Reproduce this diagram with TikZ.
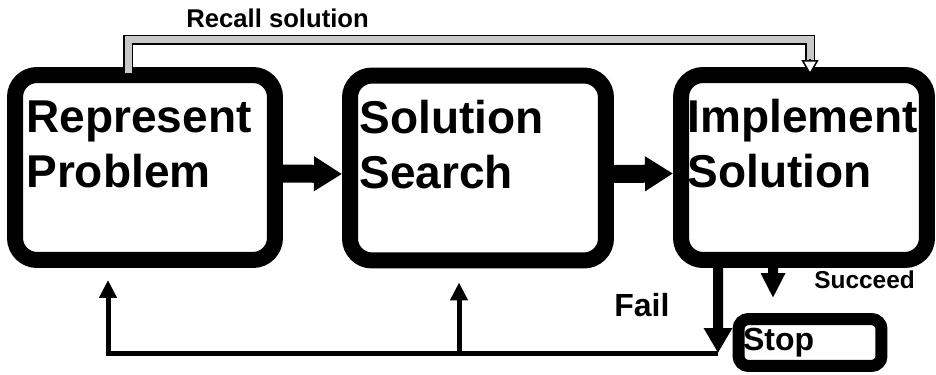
\documentclass[tikz,border=0pt]{standalone}
\usepackage{fontspec}
\setmainfont{Liberation Sans}
\usetikzlibrary{arrows.meta,calc}
\definecolor{recallfill}{HTML}{C8C8C8}

\begin{document}
\begin{tikzpicture}[x=0.02cm, y=-0.02cm,
  stagebox/.style={draw, line width=0.32cm, rounded corners=0.44cm, minimum height=3.7cm, inner sep=0pt},
  stagetext/.style={font=\fontsize{26.2}{31.3}\selectfont\bfseries, align=left, anchor=north west, inner sep=0pt},
  stopbox/.style={draw, line width=0.24cm, rounded corners=0.2cm, minimum height=0.94cm, text width=2.68cm, inner xsep=0.09cm, align=left, font=\fontsize{18.2}{22}\selectfont\bfseries},
  note/.style={font=\fontsize{14.6}{17}\selectfont\bfseries, inner sep=0pt, anchor=base west},
  flowarrow/.style={line width=0.36cm, -{Triangle[length=0.56cm,width=0.66cm]}},
  recall/.style={double=recallfill, double distance=0.14cm, line width=0.03cm},
  recallhead/.style={line width=0.03cm, -{Triangle[open,fill=white,length=0.3cm,width=0.34cm]}},
  loopline/.style={line width=0.1cm},
  looparrow/.style={line width=0.1cm, -{Triangle[length=0.36cm,width=0.34cm]}},
  downarrow/.style={line width=0.2cm, -{Triangle[length=0.5cm,width=#1]}}]
  \useasboundingbox (0,0) rectangle (936,375);

  % The three stages
  \node[stagebox, minimum width=5.2cm] (rep) at (145,167.5) {};
  \node[stagebox, minimum width=5.12cm] (srch) at (478,168) {};
  \node[stagebox, minimum width=4.92cm] (impl) at (804,167.5) {};
  \node[stagetext] (reptxt) at ([shift={(19,33)}]rep.north west) {Represent\\Problem};
  \node[stagetext] (srchtxt) at ([shift={(17,32)}]srch.north west) {Solution\\Search};
  \node[stagetext] (impltxt) at ([shift={(14,32)}]impl.north west) {Implement\\Solution};
  \draw[flowarrow] ([yshift=-0.12cm]rep.east) -- ([yshift=-0.12cm]srch.west);
  \draw[flowarrow] ([yshift=-0.12cm]srch.east) -- ([yshift=-0.12cm]impl.west);

  % Recall solution (hollow connector over the top)
  \node[note] (recalltxt) at (186,28) {Recall solution};
  \draw[recall] ([shift={(-17,6)}]rep.north) -- ++(0,-33.5) -| ([shift={(6,-7)}]impl.north);
  \draw[recallhead] ([shift={(6,-8)}]impl.north) -- ([shift={(6,8)}]impl.north);

  % Stop
  \node[stopbox] (stop) at (810,342.5) {Stop};
  \draw[downarrow=0.46cm] ([xshift=-0.62cm,yshift=0.16cm]impl.south) -- ([shift={(-37,-15)}]stop.north);
  \node[note, font=\fontsize{13.9}{16}\selectfont\bfseries] (succtxt) at (814,288) {Succeed};

  % Fail, back to the first two stages
  \coordinate (failend) at (718,353);
  \coordinate (branch) at (459,353);
  \draw[downarrow=0.54cm] ([xshift=-1.72cm,yshift=0.16cm]impl.south) -- (failend);
  \node[note, font=\fontsize{18.2}{22}\selectfont\bfseries] (failtxt) at (614,316) {Fail};
  \draw[loopline] (failend) -- (branch);
  \draw[looparrow] (branch) -| ([shift={(-37,12)}]rep.south);
  \draw[looparrow] (branch) -- ([shift={(-19,14)}]srch.south);
\end{tikzpicture}
\end{document}
